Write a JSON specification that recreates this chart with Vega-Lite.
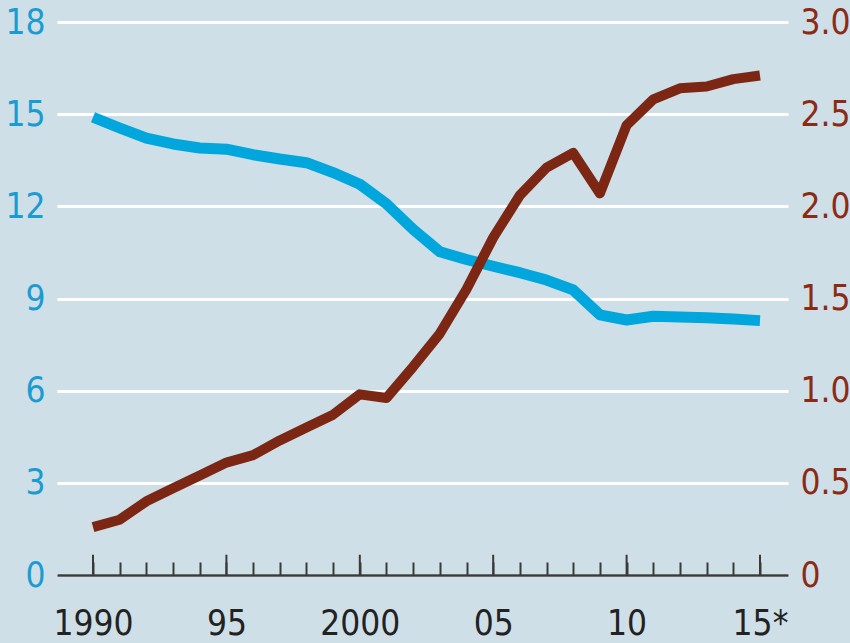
{
  "$schema": "https://vega.github.io/schema/vega-lite/v6.json",
  "width": 731,
  "height": 553,
  "autosize": {"type": "none"},
  "padding": {"left": 57, "top": 22, "right": 62, "bottom": 68},
  "background": "#cfdfe8",
  "config": {
    "view": {"stroke": null, "fill": "#cfdfe8"},
    "font": "DejaVu Sans Condensed, Open Sans, sans-serif",
    "axis": {"labelFont": "DejaVu Sans Condensed, Open Sans, sans-serif", "labelFontSize": 35, "titleFontSize": 0}
  },
  "data": {
    "values": [
      {"year": 1990, "left_value": 14.9, "right_value": 0.26},
      {"year": 1991, "left_value": 14.55, "right_value": 0.30},
      {"year": 1992, "left_value": 14.22, "right_value": 0.40},
      {"year": 1993, "left_value": 14.03, "right_value": 0.47},
      {"year": 1994, "left_value": 13.9, "right_value": 0.54},
      {"year": 1995, "left_value": 13.86, "right_value": 0.61},
      {"year": 1996, "left_value": 13.68, "right_value": 0.65},
      {"year": 1997, "left_value": 13.54, "right_value": 0.73},
      {"year": 1998, "left_value": 13.42, "right_value": 0.80},
      {"year": 1999, "left_value": 13.1, "right_value": 0.87},
      {"year": 2000, "left_value": 12.72, "right_value": 0.98},
      {"year": 2001, "left_value": 12.08, "right_value": 0.96},
      {"year": 2002, "left_value": 11.25, "right_value": 1.13},
      {"year": 2003, "left_value": 10.52, "right_value": 1.31},
      {"year": 2004, "left_value": 10.27, "right_value": 1.55},
      {"year": 2005, "left_value": 10.05, "right_value": 1.83},
      {"year": 2006, "left_value": 9.84, "right_value": 2.06},
      {"year": 2007, "left_value": 9.6, "right_value": 2.21},
      {"year": 2008, "left_value": 9.28, "right_value": 2.29},
      {"year": 2009, "left_value": 8.47, "right_value": 2.07},
      {"year": 2010, "left_value": 8.3, "right_value": 2.44},
      {"year": 2011, "left_value": 8.42, "right_value": 2.58},
      {"year": 2012, "left_value": 8.4, "right_value": 2.64},
      {"year": 2013, "left_value": 8.37, "right_value": 2.65},
      {"year": 2014, "left_value": 8.33, "right_value": 2.69},
      {"year": 2015, "left_value": 8.28, "right_value": 2.71}
    ]
  },
  "encoding": {
    "x": {
      "field": "year", "type": "quantitative",
      "scale": {"domain": [1988.65, 2016.05], "nice": false, "zero": false},
      "axis": {
        "title": null,
        "values": [1990,1991,1992,1993,1994,1995,1996,1997,1998,1999,2000,2001,2002,2003,2004,2005,2006,2007,2008,2009,2010,2011,2012,2013,2014,2015],
        "labelExpr": "datum.value == 1990 ? '1990' : datum.value == 1995 ? '95' : datum.value == 2000 ? '2000' : datum.value == 2005 ? '05' : datum.value == 2010 ? '10' : datum.value == 2015 ? '15*' : ''",
        "labelOverlap": false,
        "labelFlush": false,
        "labelBound": false,
        "labelColor": "#222222",
        "labelPadding": 44,
        "tickSize": -13,
        "tickColor": "#3a3a3a",
        "tickWidth": 2,
        "domainColor": "#3a3a3a",
        "domainWidth": 2.5,
        "grid": false,
        "zindex": 1
      }
    }
  },
  "layer": [
    {
      "layer": [
        {
          "mark": {"type": "rule", "color": "#3a3a3a", "strokeWidth": 2},
          "transform": [{"filter": {"field": "year", "oneOf": [1990, 1995, 2000, 2005, 2010, 2015]}}],
          "encoding": {
            "y": {"datum": 0},
            "y2": {"datum": 0.66}
          }
        },
        {
          "mark": {"type": "line", "color": "#00a6dc", "strokeWidth": 11, "strokeCap": "butt", "strokeJoin": "round"},
          "encoding": {
            "y": {
              "field": "left_value", "type": "quantitative",
              "scale": {"domain": [0, 18], "nice": false},
              "axis": {
                "title": null,
                "orient": "left",
                "values": [0, 3, 6, 9, 12, 15, 18],
                "labelColor": "#1a9cd2",
                "labelPadding": 12,
                "ticks": false,
                "domain": false,
                "grid": true,
                "gridColor": "#ffffff",
                "gridWidth": 3,
                "gridOpacity": 1,
                "zindex": 0
              }
            }
          }
        }
      ]
    },
    {
      "mark": {"type": "line", "color": "#7b2714", "strokeWidth": 10, "strokeCap": "butt", "strokeJoin": "round"},
      "encoding": {
        "y": {
          "field": "right_value", "type": "quantitative",
          "scale": {"domain": [0, 3], "nice": false},
          "axis": {
            "title": null,
            "orient": "right",
            "values": [0, 0.5, 1, 1.5, 2, 2.5, 3],
            "labelExpr": "datum.value == 0 ? '0' : format(datum.value, '.1f')",
            "labelColor": "#8a2b16",
            "labelPadding": 12,
            "ticks": false,
            "domain": false,
            "grid": false
          }
        }
      }
    }
  ],
  "resolve": {"scale": {"y": "independent"}}
}
